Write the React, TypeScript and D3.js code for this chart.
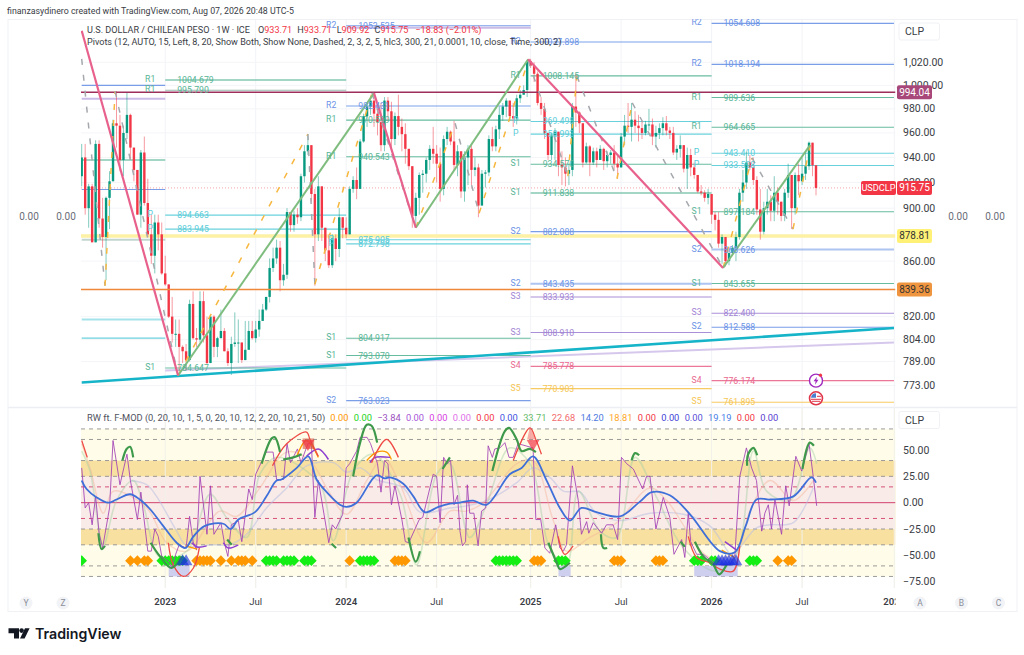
import React from 'react';
import * as d3 from 'd3';

const W = 1024;
const H = 655;
const FONT = 'Roboto, "Noto Sans", sans-serif';

// weekly candles; open is taken as the previous close
const firstOpen = 925;
const closes = [
  940, 900, 917, 874, 951, 892, 878, 908, 921, 968,
  966, 938, 960, 975, 948, 930, 895, 944, 904, 880,
  864, 889, 880, 851, 843, 820, 808, 808, 799, 796,
  790, 829, 805, 804, 831, 807, 788, 820, 799, 805,
  810, 796, 788, 801, 802, 802, 790, 797, 810, 805,
  811, 817, 825, 834, 855, 862, 870, 846, 850, 897,
  887, 895, 893, 925, 945, 950, 911, 880, 917, 885,
  868, 857, 877, 869, 893, 885, 880, 915, 922, 915,
  953, 974, 982, 987, 976, 969, 950, 987, 978, 955,
  974, 965, 959, 947, 933, 894, 908, 926, 927, 938,
  947, 943, 935, 915, 955, 961, 953, 934, 945, 913,
  940, 947, 930, 932, 902, 927, 928, 955, 949, 963,
  975, 982, 987, 974, 972, 989, 992, 996, 1021, 1017,
  1010, 985, 980, 960, 942, 958, 961, 934, 932, 927,
  930, 982, 977, 968, 936, 949, 936, 945, 938, 947,
  937, 942, 944, 935, 932, 957, 966, 965, 971, 966,
  964, 960, 967, 967, 957, 960, 964, 968, 962, 960,
  944, 947, 950, 931, 942, 932, 926, 913, 912, 908,
  911, 895, 891, 873, 878, 860, 866, 870, 878, 912,
  920, 936, 932, 922, 899, 882, 900, 905, 898, 912,
  905, 894, 912, 926, 900, 926, 921, 927, 933, 952,
  933.71, 915.75,
];
const highs = [
  951, 951, 919, 919, 954, 954, 908, 909, 929, 971,
  995, 975, 966, 994, 976, 948, 923, 946, 957, 923,
  895, 895, 895, 889, 864, 843, 834, 818, 818, 800,
  801, 832, 838, 812, 838, 838, 820, 821, 821, 806,
  825, 812, 798, 806, 823, 818, 802, 817, 817, 817,
  817, 825, 829, 834, 862, 870, 876, 875, 858, 900,
  897, 898, 900, 927, 950, 958, 950, 915, 925, 917,
  885, 880, 880, 880, 900, 893, 893, 917, 925, 932,
  955, 976, 985, 990, 992, 982, 985, 990, 990, 986,
  977, 992, 972, 968, 945, 933, 912, 928, 930, 940,
  950, 965, 950, 948, 958, 965, 962, 970, 950, 945,
  945, 950, 950, 940, 935, 930, 930, 958, 965, 966,
  982, 985, 989, 985, 985, 992, 996, 1000, 1022, 1023,
  1020, 1012, 990, 985, 960, 960, 964, 961, 945, 940,
  935, 985, 1010, 978, 968, 952, 950, 948, 948, 950,
  948, 945, 946, 950, 942, 960, 975, 985, 985, 978,
  975, 970, 970, 980, 972, 966, 968, 973, 974, 965,
  965, 950, 958, 950, 948, 947, 936, 926, 918, 914,
  915, 911, 897, 897, 880, 878, 868, 872, 882, 915,
  930, 945, 942, 940, 925, 915, 905, 915, 910, 925,
  916, 905, 915, 935, 926, 928, 935, 940, 945, 953,
  950, 933.71,
];
const lows = [
  917, 895, 885, 874, 874, 885, 870, 846, 884, 921,
  948, 929, 925, 955, 938, 921, 895, 885, 902, 878,
  858, 851, 868, 850, 842, 819, 802, 799, 782, 788,
  783, 789, 804, 799, 802, 802, 787, 792, 792, 792,
  805, 796, 786, 780, 799, 788, 788, 790, 797, 804,
  802, 806, 817, 824, 830, 852, 858, 838, 842, 847,
  882, 882, 888, 890, 920, 942, 905, 842, 875, 875,
  860, 855, 855, 860, 863, 877, 877, 880, 912, 907,
  925, 952, 965, 975, 965, 958, 945, 945, 970, 945,
  950, 958, 945, 935, 930, 885, 885, 895, 912, 920,
  930, 935, 920, 905, 910, 950, 950, 930, 925, 908,
  905, 918, 918, 925, 893, 903, 916, 925, 945, 945,
  955, 970, 973, 970, 965, 967, 985, 992, 990, 1015,
  1003, 983, 975, 955, 938, 938, 938, 925, 918, 917,
  918, 925, 965, 960, 932, 935, 925, 934, 932, 938,
  930, 932, 935, 930, 923, 932, 950, 960, 953, 960,
  953, 955, 958, 962, 950, 948, 955, 958, 958, 955,
  942, 938, 940, 928, 915, 925, 923, 912, 910, 905,
  903, 888, 883, 870, 858, 856, 857, 865, 860, 876,
  905, 915, 930, 918, 895, 876, 880, 895, 890, 890,
  895, 890, 890, 908, 884, 895, 910, 918, 922, 930,
  925, 909.92,
];

const priceTicks = [1020, 1000, 980, 960, 940, 920, 900, 860, 820, 804, 789, 773];
const oscTicks = [50, 25, 0, -25, -50, -75];
const timeTicks: [number, string, boolean][] = [
  [24, '2023', true], [50, 'Jul', false], [76, '2024', true], [102, 'Jul', false],
  [129, '2025', true], [155, 'Jul', false], [181, '2026', true], [207, 'Jul', false], [233.5, '2027', true],
];

// pivot periods as bar ranges
const pivotRanges: [number, number][] = [[0, 24], [24, 76], [76, 129], [129, 181], [181, 233.4]];
// period, level, price, printed?, heavy?
const pivotLevels: [number, string, number, boolean, boolean][] = [
  [0, 'R2', 1000, false, false], [0, 'S3', 988.6, false, true], [0, 'R1', 938, false, true], [0, 'R2', 914.5, false, false],
  [0, 'G', 876, false, true], [0, 'P', 818, false, true], [0, 'P', 805, false, false], [0, 'S1', 757, false, false],
  [1, 'R1', 1004.679, true, true], [1, 'G', 995.79, true, false], [1, 'P', 894.663, true, false], [1, 'P', 883.945, true, false], [1, 'S1', 784.647, true, false],
  [2, 'R2', 1052.525, true, false], [2, 'S3', 1050.6, false, true], [2, 'R2', 982.431, true, false], [2, 'R1', 970.599, true, false], [2, 'R1', 940.543, true, false],
  [2, 'P', 875.905, true, false], [2, 'P', 872.798, true, false], [2, 'S1', 804.917, true, false], [2, 'S1', 793.07, true, false], [2, 'S2', 763.023, true, false],
  [3, 'R2', 1037.898, true, false], [3, 'R1', 1008.145, true, false], [3, 'P', 969.498, true, false], [3, 'P', 958.993, true, false], [3, 'S1', 934.57, true, false],
  [3, 'S1', 911.838, true, true], [3, 'S2', 882.088, true, false], [3, 'S2', 843.435, true, true], [3, 'S3', 833.933, true, false], [3, 'S3', 808.91, true, false],
  [3, 'S4', 785.778, true, false], [3, 'S5', 770.903, true, false],
  [4, 'R2', 1054.608, true, false], [4, 'R2', 1018.194, true, false], [4, 'R1', 989.636, true, false], [4, 'R1', 964.665, true, false], [4, 'P', 943.41, true, false],
  [4, 'P', 933.598, true, false], [4, 'S1', 897.184, true, false], [4, 'S2', 868.626, true, true], [4, 'S1', 843.655, true, false], [4, 'S3', 822.4, true, false],
  [4, 'S2', 812.588, true, false], [4, 'S4', 776.174, true, false], [4, 'S5', 761.895, true, false],
];
const levelColors: Record<string, string> = {
  R1: '#57b596', S1: '#57b596', G: '#8fb5a8', R2: '#6b93e6', S2: '#6b93e6', P: '#5accd8',
  S3: '#a184d4', S4: '#e9688e', S5: '#f6c552',
};

// zigzag pivots and their dashed projection: bar, price
const zigzagUp: [number, number][][] = [
  [[27.7, 779.6], [84, 993.4]],
  [[96, 885], [128.3, 1022.6]],
  [[184.3, 855], [209.3, 950]],
];
const zigzagDown: [number, number][][] = [
  [[0, 1048], [27.7, 779.6]],
  [[84, 993.4], [96, 885]],
  [[128.3, 1022.6], [184.3, 855]],
];
const dashedPivots: [number, number][] = [
  [0, 1023], [6.7, 842], [9.6, 995], [27.7, 779.6], [65, 959], [67, 843], [83.4, 993.4], [96, 885],
  [107.3, 968], [114.2, 896], [128.3, 1021.4], [139.7, 925], [142.3, 1008], [153.8, 923], [158.2, 985],
  [184.3, 855], [192.6, 939.6], [204.4, 884], [209.3, 950],
];
const trendCyan: [number, number][] = [[0, 775], [233.4, 812]];
const trendLavender: [number, number][] = [[24, 783], [233.4, 802]];

// oscillator lines: bar, value
const magentaLine: [number, number][] = [
  [0, 33], [1, -5], [2, 0], [3, -21], [4, 6], [5, -29], [6, -43], [8, -5], [9, 59], [11, 17], [13, 46], [14, 21], [16, -16], [17, 10],
  [19, -46], [20, -46], [21, -25], [22, -32], [23, -51], [25, -56], [26, -62], [27, -49], [28, -40], [30, -43], [31, -13], [32, -37],
  [33, -45], [34, 25], [36, -30], [37, 16], [38, -30], [40, -19], [41, -38], [42, -51], [43, -21], [45, -17], [46, -37], [48, 13],
  [49, 3], [50, 27], [53, 48], [55, 48], [56, 22], [58, 22], [59, 56], [60, 38], [62, 51], [63, 38], [65, 56], [66, 56], [67, -14],
  [68, 21], [71, -38], [72, -21], [73, -25], [75, -11], [76, 33], [77, 37], [79, 49], [80, 62], [82, 62], [83, 56], [85, 37], [86, 10],
  [87, 40], [88, 37], [89, -2], [90, 16], [92, -16], [93, -37], [94, -38], [97, -16], [98, -14], [101, 27], [102, 25], [103, -19],
  [104, 43], [105, 37], [106, 40], [107, -2], [108, 7], [108.7, -27], [109.4, -41], [110.3, -37], [110.8, 17], [111.5, -10], [112.7, -10],
  [113.9, -41], [114.9, -8], [116.1, -5], [116.8, 54], [118, 43], [118.7, 51], [120.2, 52], [121.6, 57], [122.8, 43], [124, 43], [125.4, 56],
  [129.7, 52], [130.5, -16], [131.9, -16], [133.1, -43], [134.5, -48], [136.2, -21], [137.4, -43], [138.4, -46], [139.3, -40], [141, 35],
  [142.7, 2], [143.6, -30], [145.1, -18], [145.7, -29], [147, -19], [148.4, -25], [149.4, -29], [150.8, -21], [152.7, -21], [154, -35],
  [155.1, 43], [156.6, 37], [158.5, 32], [161.2, 13], [162.3, 25], [163.3, 25], [165, -25], [167.1, 5], [169, -14], [170.2, -49], [172.4, -35],
  [173.3, -52], [174.3, -10], [175, -37], [176.7, -49], [178.6, -49], [182.4, -59], [186.3, -59], [187.7, -49], [189.1, 25], [191, 52],
  [192.5, 33], [193.9, 21], [195.4, -27], [196.3, -10], [197.3, -2], [198.2, -25], [199.2, 3], [201.1, -30], [202.3, 16], [203.3, -3],
  [205.2, 44], [206.9, 30], [209, 56], [210.2, 25], [211.2, -3],
];
const blueLine: [number, number][] = [
  [0, 21], [1.4, 13], [4.3, 5], [7.6, 0], [10, 3], [13.9, 8], [16.7, 3], [19.6, -6], [23.4, -22], [27.3, -38], [29.8, -43], [32.1, -32],
  [35.4, -22], [40.7, -20], [42.8, -25], [45, -16], [49.8, -9], [53.1, 6], [56, 21], [57.4, 22], [61.8, 33], [65.1, 44], [67.5, 22],
  [70.4, 10], [74.2, -2], [76.1, -4], [79, 0], [84.7, 26], [87.1, 23], [88.6, 24], [92.4, 18], [95.3, 6], [98.6, -9], [102.5, -4],
  [105.8, -1], [108.7, 0], [112.5, 2], [116.3, -2], [123, 27], [126.4, 33], [129.7, 44], [133.6, 21], [137.4, -5], [140.3, -17],
  [143.6, -5], [147.9, -9], [154.7, -13], [160.4, 1], [163.8, 10], [169, 7], [174.8, -11], [183.4, -46], [187.7, -47], [190.8, -22],
  [193.9, 3], [197.8, 3], [204.5, 6], [209.7, 24], [211, 19],
];
const fadedSlate: [number, number][] = [
  [13.9, 21], [18.7, 17], [21.5, 6], [27.3, -27], [30.2, -41], [37.8, -40], [42.6, -40], [47.4, -30], [53.1, -5], [58.9, 14], [64.6, 35],
  [72.3, 38], [76.1, 29], [80, 33], [84.7, 22], [92.4, 14], [97.2, -9], [105.8, -5], [110.6, -3], [116.3, 2], [125, 19], [129.7, 33],
  [134.5, 24], [138.4, 11], [143.2, 10], [147.9, -10], [154.7, -17], [163.3, -10], [172.9, -11], [180.5, -22], [187.2, -51], [189.1, -43],
  [193.9, -24], [197.8, -21], [204.5, -19], [210.2, 14],
];
const fadedPeach: [number, number][] = [
  [0, 56], [2.4, 33], [6.2, -10], [9.1, 11], [18.7, -5], [24.4, -38], [30.2, -46], [39.7, -8], [44.5, -13], [51.2, 14], [58.9, 48], [65.6, 40],
  [70.4, 14], [76.1, -11], [81.9, 21], [86.7, 43], [91.5, 17], [99.1, -38], [105.8, -8], [110.6, -8], [115.4, 0], [125, 37], [129.7, 40],
  [135.5, -17], [139.3, -46], [146, -33], [153.7, -19], [163.3, 14], [168.1, 2], [180.5, -52], [188.2, -46], [192, -8], [197.8, 21], [204.5, 2], [210.2, 21],
];
const fadedGreen: [number, number][] = [
  [0, 49], [2.4, 30], [6.2, -40], [10, 2], [14.8, 21], [17.7, -2], [22.5, -52], [30.2, -46], [36.9, 8], [41.6, -14], [47.4, -33], [51.2, 27],
  [56, 43], [68.5, 17], [72.3, -36], [78, 30], [83.8, 46], [91.5, 8], [96.2, -59], [102, 27], [105.8, 37], [111.5, -33], [116.3, -2], [123, 52],
  [128.8, 37], [134.5, -43], [139.3, -59], [142.7, 11], [148.9, -27], [153.7, -33], [159, 43], [165.2, 5], [172.9, -43], [182.4, -65],
  [188.2, -49], [193, 49], [196.8, 11], [203.5, 2], [209.2, 52], [211.2, 37],
];
const greenRuns: [number, number][][] = [
  [[4.8, -29], [5.7, -44], [6.7, -41]],
  [[11.7, 40], [12.9, 51], [13.9, 53], [14.8, 43]],
  [[19.8, -38], [22.5, -51], [25.8, -62], [28.7, -51]],
  [[41.8, -35], [43.1, -40]],
  [[51.7, 37], [54.6, 61], [55.5, 62], [57, 48]],
  [[57.9, 41], [60.8, 43], [63.2, 46]],
  [[71.8, -39], [73.1, -43]],
  [[78, 25], [80, 57], [81.9, 74], [83.3, 73], [84.9, 57]],
  [[93.9, -33], [96, -56], [97.2, -46]],
  [[103.7, 32], [105.8, 43]],
  [[118, 30], [121.6, 68], [122.8, 71], [125, 60], [126.4, 49], [128.8, 51], [130.5, 48]],
  [[134.1, -38], [136.5, -57], [137.4, -63], [140.3, -57]],
  [[149.2, -30], [149.9, -43], [151, -43]],
  [[158, 40], [159, 47], [160.2, 45]],
  [[172.1, -37], [173.3, -42]],
  [[176.2, -37], [178.6, -51], [181.5, -59], [183.2, -68], [185.3, -59]],
  [[191.2, 35], [191.5, 46], [193, 52], [194.1, 45]],
  [[207.1, 32], [209.2, 57], [210.4, 54]],
];
const redRuns: [number, number][][] = [
  [[0, 59], [1.6, 43]],
  [[24.9, -38], [26.3, -59], [29.2, -70], [32.1, -62], [33.8, -43]],
  [[54.8, 35], [58.9, 56], [64.6, 67], [65.6, 60], [68, 44]],
  [[83.3, 38], [87.6, 60], [91, 43]],
  [[124, 40], [128.8, 71], [130.5, 60], [132.1, 46]],
  [[136.9, -32], [138.8, -49], [141.2, -41]],
  [[174.3, -32], [176.7, -52], [180.5, -57], [183.4, -63], [187.2, -65], [189.1, -41]],
];
const orangeRuns: [number, number][][] = [
  [[29.8, -41], [33.2, -44]],
  [[61.8, 44], [64.6, 59], [68, 43]],
  [[81.9, 40], [84.8, 48], [87.6, 48], [89, 41]],
  [[183.9, -45], [187.7, -52]],
];
const purpleRuns: [number, number][][] = [
  [[31.6, -38], [33.2, -42], [35.9, -41]],
  [[40.7, -38], [42.1, -43], [45, -40]],
  [[64.6, 44], [68, 51], [70.9, 41]],
  [[82.8, 38], [84.3, 43], [88.6, 43]],
  [[184.8, -37], [188.2, -45]],
];

const limeDiamonds = [0, 23, 24, 25, 26, 27, 28, 29, 53, 54, 55, 56, 58, 59, 60, 61, 64, 65, 66, 80, 81, 82, 83, 84, 119, 120, 121, 122, 123, 124, 125, 137, 138, 139, 176, 177, 178, 181, 182, 192, 193, 194];
const orangeDiamonds = [14, 16, 18, 19, 33, 34, 35, 36, 37, 40, 43, 45, 46, 47, 49, 77, 90, 91, 92, 93, 130, 131, 132, 153, 154, 155, 165, 166, 167, 200, 203, 204];
const blueTriangles = [29, 30, 183, 184, 185, 186, 187, 188];
const redTriangles = [65, 129.7];
const lavenderBoxes: [number, number][] = [[25, 31], [137, 140.5], [176, 188.5]];
const redBox: [number, number] = [63.5, 66.8];
const redCap: [number, number][] = [[128, 60], [128.8, 72], [130.5, 60]];

const oscLevels = [70, 60, 40, 25, -25, -40, -60, -70];
const oscMidLevels = [15, -15];

const oscLegendValues = ['0.00', '0.00', '\u22123.84', '0.00', '0.00', '0.00', '0.00', '0.00', '33.71', '22.68', '14.20', '18.81', '0.00', '0.00', '0.00', '19.19', '0.00', '0.00'];
const oscLegendColors = ['#ff9800', '#22d422', '#9c4fc0', '#a855d8', '#d63de0', '#e070e8', '#f23645', '#3f51e0', '#66bb6a', '#f26d6d', '#4e79e0', '#ffa726', '#f23645', '#3f3fd8', '#5a50d8', '#4a80e8', '#f23645', '#5a40d0'];

const x = d3.scaleLinear().domain([0, 211]).range([81.7, 816]);
const y = d3.scaleLog().domain([1054.608, 761.895]).range([23.4, 402.3]);
const yo = d3.scaleLinear().domain([50, -75]).range([450, 581.7]);

const priceLine = d3.line<[number, number]>().x(d => x(d[0])).y(d => y(d[1]));
const oscLinear = d3.line<[number, number]>().x(d => x(d[0])).y(d => yo(d[1]));
const oscSmooth = d3.line<[number, number]>().x(d => x(d[0])).y(d => yo(d[1])).curve(d3.curveCatmullRom.alpha(0.5));
const diamond = d3.symbol().type(d3.symbolSquare).size(56)() as string;
const triangle = d3.symbol().type(d3.symbolTriangle).size(70)() as string;

const chartLeft = 81;
const chartRight = 895.5;
const priceFmt = d3.format(',.2f');
const oscFmt = (v: number) => (v < 0 ? '\u2212' : '') + d3.format('.2f')(Math.abs(v));

function Tag({ tx, ty, w, label, fill, color, size = 10 }: { tx: number; ty: number; w: number; label: string; fill: string; color: string; size?: number }) {
  return (
    <g>
      <rect x={tx} y={ty - 7} width={w} height={14} rx={2} fill={fill} />
      <text x={tx + w / 2} y={ty + 3.5} textAnchor="middle" fontSize={size} fill={color}>{label}</text>
    </g>
  );
}

function RoundBadge({ cx, cy, label }: { cx: number; cy: number; label: string }) {
  return (
    <g>
      <circle cx={cx} cy={cy} r={6.5} fill="#f2f3f6" />
      <text x={cx} y={cy + 3} textAnchor="middle" fontSize={8.5} fill="#8a8e99">{label}</text>
    </g>
  );
}

export default function App() {
  const candles = closes.map((c, i) => {
    const o = i === 0 ? firstOpen : closes[i - 1];
    return { i, o, c, h: Math.max(highs[i], o, c), l: Math.min(lows[i], o, c) };
  });
  const lastPrice = closes[closes.length - 1];

  return (
    <svg width={W} height={H} viewBox={`0 0 ${W} ${H}`} fontFamily={FONT} style={{ position: 'absolute', left: 0, top: 0, background: '#fff' }}>
      <defs>
        <clipPath id="pricePane"><rect x={chartLeft} y={19} width={chartRight - chartLeft} height={388} /></clipPath>
        <clipPath id="oscPane"><rect x={chartLeft} y={408} width={chartRight - chartLeft} height={180} /></clipPath>
        <clipPath id="timePane"><rect x={chartLeft} y={590} width={chartRight - chartLeft} height={20} /></clipPath>
      </defs>

      <text x={7} y={14} fontSize={8.8} fill="#3a3d45">finanzasydinero created with TradingView.com, Aug 07, 2026 20:48 UTC-5</text>
      <rect x={8} y={19.5} width={1009} height={592} fill="none" stroke="#f0f1f5" />
      <line x1={8} x2={1017} y1={407.5} y2={407.5} stroke="#eceef3" strokeWidth={1.5} />

      {/* grid */}
      {timeTicks.map(([b]) => (
        <line key={b} x1={x(b)} x2={x(b)} y1={20} y2={588} stroke="#f2f3f7" />
      ))}
      {priceTicks.map(t => (
        <line key={t} x1={chartLeft} x2={chartRight} y1={y(t)} y2={y(t)} stroke="#f4f5f8" />
      ))}

      <g clipPath="url(#pricePane)">
        <line x1={chartLeft} x2={chartRight} y1={y(878.81)} y2={y(878.81)} stroke="#fdf1a6" strokeWidth={3.5} />
        <path d={priceLine(trendLavender) as string} fill="none" stroke="#d6c8ec" strokeWidth={2} />

        {/* pivot levels */}
        {pivotLevels.map(([seg, name, value, , heavy], k) => (
          <line
            key={k}
            x1={x(pivotRanges[seg][0])}
            x2={x(pivotRanges[seg][1])}
            y1={y(value)}
            y2={y(value)}
            stroke={levelColors[name]}
            strokeWidth={heavy ? 2 : 1.1}
            strokeOpacity={heavy ? 0.55 : 0.9}
          />
        ))}

        <line x1={chartLeft} x2={chartRight} y1={y(lastPrice)} y2={y(lastPrice)} stroke="#f5a3ab" strokeDasharray="1 2" />

        {/* candles */}
        {candles.map(d => {
          const col = d.c >= d.o ? '#089981' : '#f23645';
          return (
            <g key={d.i}>
              <line x1={x(d.i)} x2={x(d.i)} y1={y(d.h)} y2={y(d.l)} stroke={col} strokeWidth={1} strokeOpacity={0.5} />
              <rect x={x(d.i) - 1.2} width={2.4} y={y(Math.max(d.o, d.c))} height={Math.max(1, Math.abs(y(d.o) - y(d.c)))} fill={col} />
            </g>
          );
        })}

        <line x1={chartLeft} x2={chartRight} y1={y(994.04)} y2={y(994.04)} stroke="#9e2f5a" strokeWidth={1.5} />
        <line x1={chartLeft} x2={chartRight} y1={y(839.36)} y2={y(839.36)} stroke="#f0883a" strokeWidth={1.5} />
        <path d={priceLine(trendCyan) as string} fill="none" stroke="#16b4c8" strokeWidth={2.6} />

        {/* dashed projection, grey falling and orange rising */}
        {dashedPivots.slice(1).map((p, k) => (
          <path
            key={k}
            d={priceLine([dashedPivots[k], p]) as string}
            fill="none"
            stroke={k % 2 === 0 ? '#a5a8ad' : '#f7b73f'}
            strokeWidth={1.5}
            strokeDasharray="6 10"
          />
        ))}
        {zigzagUp.map((seg, k) => (
          <path key={k} d={priceLine(seg) as string} fill="none" stroke="#7fbd7f" strokeWidth={2} />
        ))}
        {zigzagDown.map((seg, k) => (
          <path key={k} d={priceLine(seg) as string} fill="none" stroke="#e8608c" strokeWidth={2.2} />
        ))}

        {/* pivot labels */}
        {pivotLevels.filter(l => l[3]).map(([seg, name, value], k) => {
          const col = name === 'G' ? levelColors.R1 : levelColors[name];
          return (
            <g key={k} fontSize={8.7} fill={col}>
              <text x={x(pivotRanges[seg][0]) - 15} y={y(value) + 2} textAnchor="middle">{name === 'G' ? 'R1' : name}</text>
              <text x={x(pivotRanges[seg][0]) + 12} y={y(value) + 3}>{d3.format('.3f')(value)}</text>
            </g>
          );
        })}

        {/* event marks */}
        <circle cx={x(211)} cy={y(776.174)} r={6.5} fill="#fff" stroke="#a02bc0" strokeWidth={1.4} />
        <path transform={`translate(${x(211)},${y(776.174)})`} d="M1 -4L-2.5 0.6H-0.4L-1 4L2.5 -0.8H0.4Z" fill="#a02bc0" />
        <circle cx={x(211) + 4.5} cy={y(776.174) - 5.5} r={1.6} fill="#f23645" />
        <circle cx={x(211)} cy={y(761.895) - 4} r={6.5} fill="#fff" stroke="#e0364a" strokeWidth={1.6} />
        <path transform={`translate(${x(211)},${y(761.895) - 4})`} d="M-5 -0.5A5 5 0 0 1 0 -5V-0.5Z" fill="#4a7fd0" />
        <path transform={`translate(${x(211)},${y(761.895) - 4})`} d="M-5 1H5M-4 3H4M1 -2H5" stroke="#e0364a" strokeWidth={1} />
      </g>

      {/* legend */}
      <text x={87} y={33} fontSize={9.1} fill="#3a3d45">
        U.S. DOLLAR / CHILEAN PESO · 1W · ICE
        <tspan dx={8}>O</tspan><tspan fill="#f23645">933.71</tspan>
        <tspan dx={5}>H</tspan><tspan fill="#f23645">933.71</tspan>
        <tspan dx={5}>L</tspan><tspan fill="#f23645">909.92</tspan>
        <tspan dx={5}>C</tspan><tspan fill="#f23645">915.75</tspan>
        <tspan dx={7} fill="#f23645">−18.83 (−2.01%)</tspan>
      </text>
      <text x={87} y={45} fontSize={9.05} fill="#3a3d45">Pivots (12, AUTO, 15, Left, 8, 20, Show Both, Show None, Dashed, 2, 3, 2, 5, hlc3, 300, 21, 0.0001, 10, close, Time, 300, 2)</text>

      {/* oscillator bands */}
      <g clipPath="url(#oscPane)">
        <rect x={chartLeft} width={chartRight - chartLeft} y={yo(70)} height={yo(-70) - yo(70)} fill="#fffdea" />
        <rect x={chartLeft} width={chartRight - chartLeft} y={yo(40)} height={yo(-40) - yo(40)} fill="#f8e0a0" />
        <rect x={chartLeft} width={chartRight - chartLeft} y={yo(25)} height={yo(-25) - yo(25)} fill="#f9ebe8" />
        {timeTicks.map(([b]) => (
          <line key={b} x1={x(b)} x2={x(b)} y1={408} y2={588} stroke="#f2f0e8" />
        ))}
        {oscLevels.map(v => (
          <line key={v} x1={chartLeft} x2={chartRight} y1={yo(v)} y2={yo(v)} stroke="#8f8f8f" strokeDasharray="4 4" strokeWidth={0.9} />
        ))}
        {oscMidLevels.map(v => (
          <line key={v} x1={chartLeft} x2={chartRight} y1={yo(v)} y2={yo(v)} stroke="#d2416e" strokeDasharray="4 4" strokeWidth={0.9} />
        ))}
        <line x1={chartLeft} x2={chartRight} y1={yo(0)} y2={yo(0)} stroke="#d2416e" strokeWidth={1} />

        {lavenderBoxes.map(([a, b]) => (
          <rect key={a} x={x(a)} width={x(b) - x(a)} y={yo(-60)} height={yo(-70) - yo(-60)} fill="#c5c6f0" fillOpacity={0.85} />
        ))}

        <path d={oscSmooth(fadedSlate) as string} fill="none" stroke="#b9bfe2" strokeWidth={1.4} strokeOpacity={0.55} />
        <path d={oscSmooth(fadedPeach) as string} fill="none" stroke="#f5b49a" strokeWidth={1.4} strokeOpacity={0.45} />
        <path d={oscSmooth(fadedGreen) as string} fill="none" stroke="#a5cfa5" strokeWidth={1.6} strokeOpacity={0.45} />

        {limeDiamonds.map(b => (
          <path key={b} d={diamond} transform={`translate(${x(b)},${yo(-55)}) rotate(45)`} fill="#14ee14" />
        ))}
        {orangeDiamonds.map(b => (
          <path key={b} d={diamond} transform={`translate(${x(b)},${yo(-55)}) rotate(45)`} fill="#ff9800" />
        ))}

        <path d={oscLinear(magentaLine) as string} fill="none" stroke="#a13fb4" strokeWidth={1} strokeOpacity={0.85} />

        {orangeRuns.map((r, k) => <path key={k} d={oscSmooth(r) as string} fill="none" stroke="#ff9800" strokeWidth={1.3} />)}
        {purpleRuns.map((r, k) => <path key={k} d={oscSmooth(r) as string} fill="none" stroke="#8e3fd0" strokeWidth={1.5} />)}
        {redRuns.map((r, k) => <path key={k} d={oscSmooth(r) as string} fill="none" stroke="#ef4a45" strokeWidth={1.3} />)}
        {greenRuns.map((r, k) => <path key={k} d={oscSmooth(r) as string} fill="none" stroke="#3e9a4a" strokeWidth={2.2} />)}

        <path d={oscSmooth(blueLine) as string} fill="none" stroke="#3f6fd8" strokeWidth={1.8} />

        {blueTriangles.map(b => (
          <path key={b} d={triangle} transform={`translate(${x(b)},${yo(-56)})`} fill="#1a2fe0" fillOpacity={0.65} />
        ))}
        <rect x={x(redBox[0])} width={x(redBox[1]) - x(redBox[0])} y={yo(61)} height={yo(51) - yo(61)} fill="#d8503c" fillOpacity={0.6} />
        <path d={`${oscLinear(redCap)}Z`} fill="#f26d6d" fillOpacity={0.55} />
        {redTriangles.map(b => (
          <path key={b} d={triangle} transform={`translate(${x(b)},${yo(56)}) rotate(180)`} fill="#f23645" fillOpacity={0.7} />
        ))}
      </g>

      <text x={87} y={421} fontSize={9.3} fill="#50535e">
        RW ft. F-MOD (0, 20, 10, 1, 5, 0, 20, 10, 12, 2, 20, 10, 21, 50)
        {oscLegendValues.map((v, k) => (
          <tspan key={k} dx={k === 0 ? 5 : 5.3} fill={oscLegendColors[k]}>{v}</tspan>
        ))}
      </text>

      {/* price axis */}
      <g fontSize={10.5} fill="#3a3d45">
        {priceTicks.map(t => (
          <text key={t} x={903} y={y(t) + 3.5}>{priceFmt(t)}</text>
        ))}
        {oscTicks.map(t => (
          <text key={t} x={903} y={yo(t) + 3.5}>{oscFmt(t)}</text>
        ))}
      </g>
      <Tag tx={897} ty={y(994.04)} w={35} label="994.04" fill="#a8477a" color="#fff" />
      <Tag tx={897} ty={y(lastPrice)} w={35} label="915.75" fill="#f23645" color="#fff" />
      <Tag tx={861} ty={y(lastPrice)} w={35} label="USDCLP" fill="#f23645" color="#fff" size={9.2} />
      <Tag tx={897} ty={y(878.81)} w={35} label="878.81" fill="#fff176" color="#333" />
      <Tag tx={897} ty={y(839.36)} w={35} label="839.36" fill="#f0953f" color="#333" />

      {[[31.5, 23], [420, 411.5]].map(([cy, top]) => (
        <g key={top}>
          <rect x={899} y={top} width={40.5} height={17} rx={2} fill="#fff" stroke="#f0f1f5" />
          <text x={905} y={cy + 3.6} fontSize={10.5} fill="#3a3d45">CLP</text>
        </g>
      ))}

      {/* empty scale values of the hidden studies */}
      <g fontSize={10} fill="#6a6d78" textAnchor="middle">
        {[29, 66, 958, 995].map(v => <text key={v} x={v} y={220}>0.00</text>)}
      </g>

      {/* time axis */}
      <g clipPath="url(#timePane)" fontSize={9.6} fill="#3a3d45" textAnchor="middle">
        {timeTicks.map(([b, label, strong]) => (
          <text key={b} x={x(b)} y={605} fontWeight={strong ? 600 : 400}>{label}</text>
        ))}
      </g>
      <RoundBadge cx={26} cy={603} label="Y" />
      <RoundBadge cx={63} cy={603} label="Z" />
      <RoundBadge cx={920} cy={603} label="A" />
      <RoundBadge cx={961.5} cy={603} label="B" />
      <RoundBadge cx={998.5} cy={603} label="C" />

      {/* wordmark */}
      <g fill="#131722">
        <path d="M8.5 628.3h10.5v10.3h-5v-5.3h-5.5z" />
        <circle cx={21.6} cy={630.6} r={2.3} />
        <path d="M25 628.3h4.6l-5 10.3h-4.6z" />
        <text x={35} y={638.6} fontFamily='Inter, Roboto, sans-serif' fontWeight={600} fontSize={14.2}>TradingView</text>
      </g>
    </svg>
  );
}
